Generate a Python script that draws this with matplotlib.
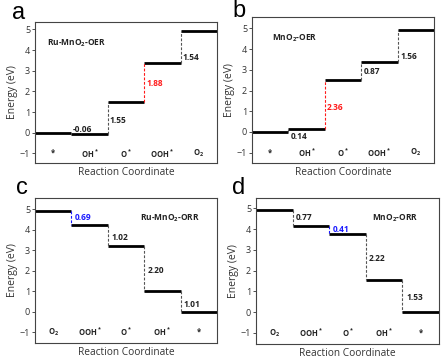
"""Free energy diagrams for OER / ORR on Ru-MnO2 and MnO2."""

import matplotlib

matplotlib.use("Agg")

import matplotlib.pyplot as plt

plt.rcParams["font.family"] = ["Open Sans", "DejaVu Sans"]
plt.rcParams["mathtext.fontset"] = "custom"
plt.rcParams["mathtext.rm"] = "Open Sans:bold"
plt.rcParams["mathtext.it"] = "Open Sans:bold"
plt.rcParams["mathtext.bf"] = "Open Sans:bold"

# ---- data -------------------------------------------------------------
oer_states = ["*", "OH$^*$", "O$^*$", "OOH$^*$", "O$_2$"]
orr_states = ["O$_2$", "OOH$^*$", "O$^*$", "OH$^*$", "*"]

ru_oer_energy = [0.0, -0.06, 1.49, 3.37, 4.92]
ru_oer_steps = ["-0.06", "1.55", "1.88", "1.54"]

mn_oer_energy = [0.0, 0.14, 2.50, 3.37, 4.93]
mn_oer_steps = ["0.14", "2.36", "0.87", "1.56"]

ru_orr_energy = [4.92, 4.23, 3.21, 1.01, 0.0]
ru_orr_steps = ["0.69", "1.02", "2.20", "1.01"]

mn_orr_energy = [4.92, 4.15, 3.74, 1.52, 0.0]
mn_orr_steps = ["0.77", "0.41", "2.22", "1.53"]

# ---- layout -----------------------------------------------------------
W, H = 448, 362


def _rect(left, top, right, bottom):
    return [left / W, (H - bottom) / H, (right - left) / W, (bottom - top) / H]


panels = [
    dict(letter="a", rect=_rect(35, 21.7, 217, 163.3), ylim=(-1.48, 5.37),
         energy=ru_oer_energy, steps=ru_oer_steps, states=oer_states,
         name="Ru-MnO$_2$-OER", name_xy=(0.33, 4.35), highlight=2, hcolor="#ff1a1a",
         label_xy=[(1.03, 0.15), (2.05, 0.6), (3.05, 2.4), (4.05, 3.65)],
         letter_xy=(19, 13)),
    dict(letter="b", rect=_rect(252, 17.3, 434, 163.3), ylim=(-1.51, 5.53),
         energy=mn_oer_energy, steps=mn_oer_steps, states=oer_states,
         name="MnO$_2$-OER", name_xy=(0.55, 4.5), highlight=1, hcolor="#ff1a1a",
         label_xy=[(1.07, -0.2), (2.06, 1.2), (3.07, 2.9), (4.09, 3.66)],
         letter_xy=(239, 11)),
    dict(letter="c", rect=_rect(35, 197.7, 217, 343), ylim=(-1.53, 5.56),
         energy=ru_orr_energy, steps=ru_orr_steps, states=orr_states,
         name="Ru-MnO$_2$-ORR", name_xy=(2.88, 4.57), highlight=0, hcolor="#1a1aff",
         label_xy=[(1.08, 4.58), (2.1, 3.6), (3.1, 2.03), (4.07, 0.37)],
         letter_xy=(22, 188)),
    dict(letter="d", rect=_rect(256, 197.7, 439, 344), ylim=(-1.54, 5.51),
         energy=mn_orr_energy, steps=mn_orr_steps, states=orr_states,
         name="MnO$_2$-ORR", name_xy=(3.17, 4.54), highlight=1, hcolor="#1a1aff",
         label_xy=[(1.09, 4.54), (2.1, 4.0), (3.09, 2.6), (4.1, 0.68)],
         letter_xy=(239, 188)),
]

fig = plt.figure(figsize=(W / 100, H / 100), dpi=100)

for p in panels:
    ax = fig.add_axes(p["rect"])
    energy = p["energy"]
    for i, e in enumerate(energy):
        ax.plot([i, i + 1], [e, e], color="black", lw=2.0, solid_capstyle="butt")
        ax.text(i + 0.5, -1.0, p["states"][i], ha="center", va="center",
                fontsize=5.5, fontweight="bold", color="#222222")
    for i in range(1, len(energy)):
        color = p["hcolor"] if i - 1 == p["highlight"] else "#555555"
        ax.plot([i, i], [energy[i - 1], energy[i]], color=color, lw=0.8,
                ls=(0, (2.5, 1.5)))
        lx, ly = p["label_xy"][i - 1]
        tcolor = p["hcolor"] if i - 1 == p["highlight"] else "#222222"
        ax.text(lx, ly, p["steps"][i - 1], ha="left", va="center",
                fontsize=6, fontweight="bold", color=tcolor)
    ax.text(*p["name_xy"], p["name"], ha="left", va="center",
            fontsize=6, fontweight="bold", color="#222222")

    ax.set_xlim(0, 5)
    ax.set_ylim(*p["ylim"])
    ax.set_yticks(range(-1, 6))
    ax.set_xticks([])
    ax.tick_params(axis="y", direction="out", length=2, width=0.6,
                   labelsize=6.5, pad=1.5, colors="#333333")
    for spine in ax.spines.values():
        spine.set_linewidth(0.8)
        spine.set_color("#444444")
    ax.set_ylabel("Energy (eV)", fontsize=7.5, labelpad=1, color="#333333")
    ax.set_xlabel("Reaction Coordinate", fontsize=7.3, labelpad=3, color="#333333")

    fx, fy = p["letter_xy"]
    fig.text(fx / W, 1 - fy / H, p["letter"], ha="center", va="center",
             fontsize=17, color="black", family=["Liberation Sans", "DejaVu Sans"])

fig.savefig("out.png", dpi=100)
